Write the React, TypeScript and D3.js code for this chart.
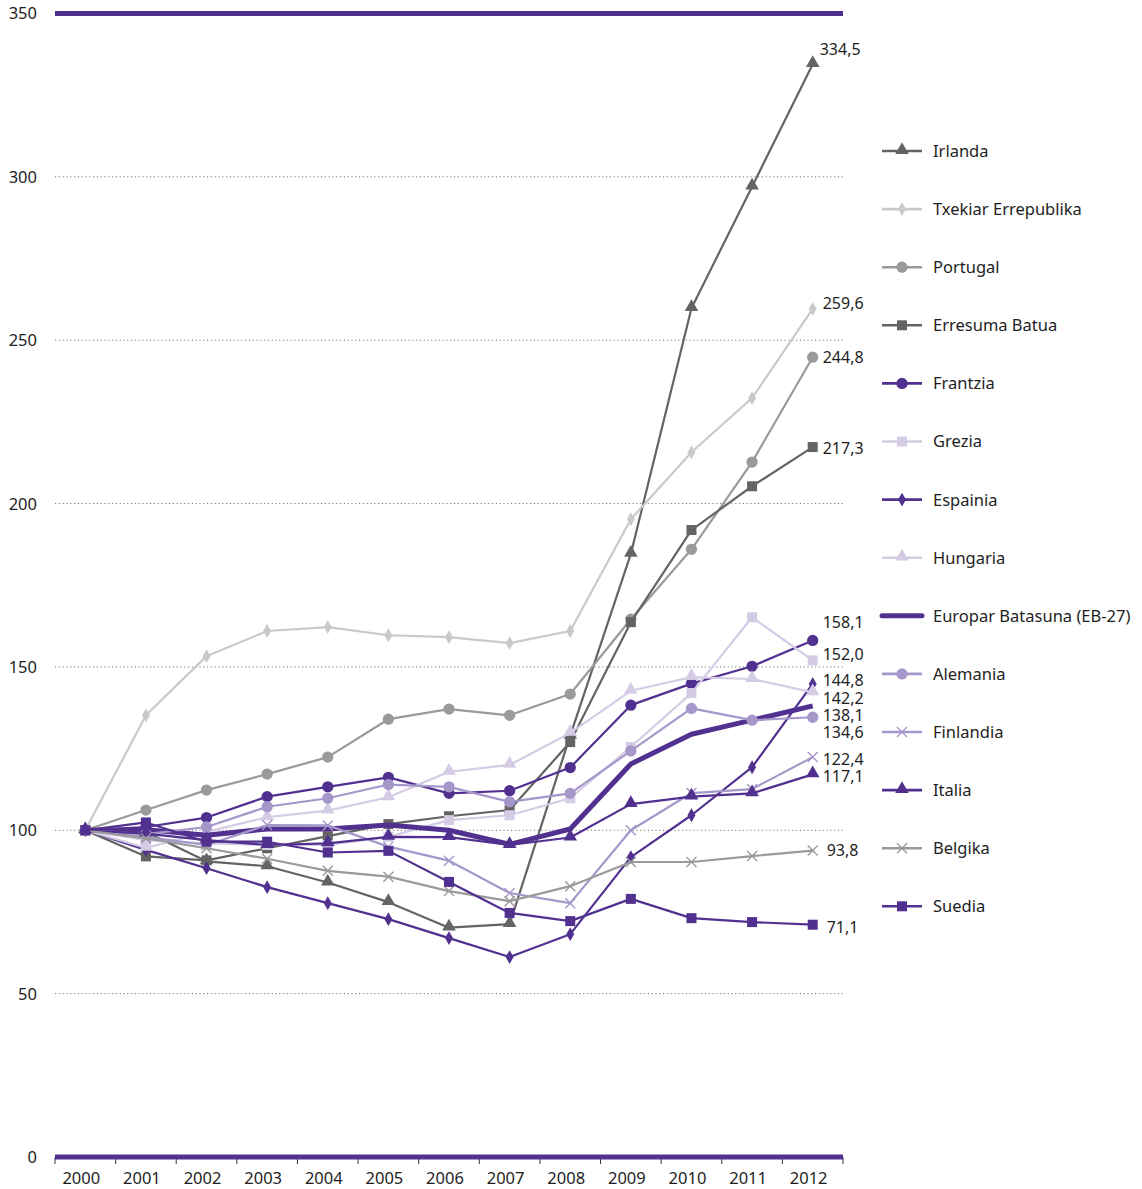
import React from "react";
import * as d3 from "d3";

const years = ["2000","2001","2002","2003","2004","2005","2006","2007","2008","2009","2010","2011","2012"];
const yTicks = [0, 50, 100, 150, 200, 250, 300, 350];

const irlanda = [100, 99.5, 90.5, 89, 84, 78, 70.2, 71.3, 129, 184.6, 259.8, 297, 334.5];
const txekiar = [100, 135.2, 153.3, 161, 162.2, 159.7, 159.1, 157.3, 161, 195.2, 215.7, 232.3, 259.6];
const portugal = [100, 106.2, 112.3, 117.2, 122.4, 134, 137.1, 135.2, 141.7, 164.6, 186, 212.7, 244.8];
const erresuma = [100, 92, 90.8, 94.5, 98.2, 101.9, 104.3, 106.2, 127, 163.7, 191.9, 205.3, 217.3];
const frantzia = [100, 101, 103.9, 110.3, 113.3, 116.2, 111.3, 112.1, 119.2, 138.3, 144.9, 150.2, 158.1];
const grezia = [100, 97, 96, 95.5, 95.5, 98, 103.1, 104.6, 109.8, 125.5, 142, 165.2, 152.0];
const espainia = [100, 94, 88.4, 82.6, 77.7, 72.8, 67, 61.2, 68.2, 91.8, 104.6, 119.3, 144.8];
const hungaria = [100, 94.6, 99.5, 104, 106, 110.1, 117.9, 120, 129.8, 142.7, 146.9, 146.3, 142.2];
const eb27 = [100, 100.2, 98.5, 100.4, 100.4, 101.6, 100, 95.7, 100.4, 120.3, 129.4, 133.7, 138.1];
const alemania = [100, 98.8, 101, 107.2, 109.8, 114, 113.3, 108.7, 111.3, 124.3, 137.3, 133.7, 134.6];
const finlandia = [100, 98, 95.5, 101.6, 101.5, 95, 90.7, 80.8, 77.7, 100, 111.4, 112.6, 122.4];
const italia = [100, 99, 97, 95.5, 96, 98, 97.9, 95.5, 97.8, 108, 110.3, 111.3, 117.1];
const belgika = [100, 97.5, 94.5, 91.3, 87.6, 85.8, 81.4, 78.3, 82.9, 90.3, 90.3, 92.1, 93.8];
const suedia = [100, 102.4, 96.5, 96.5, 93.2, 93.7, 84.2, 74.7, 72.2, 79, 73.1, 71.9, 71.1];

const names = ["Irlanda","Txekiar Errepublika","Portugal","Erresuma Batua","Frantzia","Grezia","Espainia","Hungaria","Europar Batasuna (EB-27)","Alemania","Finlandia","Italia","Belgika","Suedia"];
const endLabels = ["334,5","259,6","244,8","217,3","158,1","152,0","144,8","142,2","138,1","134,6","122,4","117,1","93,8","71,1"];

const PURPLE = "#51308f";
const DGRAY = "#646464";
const MGRAY = "#9a9a9c";
const LGRAY = "#c9c9c9";
const LLAV = "#d4cce5";
const LPUR = "#a597ca";

type Series = { name: string; values: number[]; color: string; marker: string; width: number; label: string; ldy: number; ldx: number };

const seriesData: number[][] = [irlanda, txekiar, portugal, erresuma, frantzia, grezia, espainia, hungaria, eb27, alemania, finlandia, italia, belgika, suedia];
const styles = [
  { color: DGRAY, marker: "triangle", width: 2.2, ldy: -15, ldx: 7 },
  { color: LGRAY, marker: "diamond", width: 2.2, ldy: -6, ldx: 10 },
  { color: MGRAY, marker: "circle", width: 2.2, ldy: 0, ldx: 10 },
  { color: DGRAY, marker: "square", width: 2.2, ldy: 1, ldx: 10 },
  { color: PURPLE, marker: "circle", width: 2.2, ldy: -18, ldx: 10 },
  { color: LLAV, marker: "square", width: 2.2, ldy: -6, ldx: 10 },
  { color: PURPLE, marker: "diamond", width: 2.2, ldy: -4, ldx: 10 },
  { color: LLAV, marker: "triangle", width: 2.2, ldy: 6, ldx: 10 },
  { color: PURPLE, marker: "none", width: 5, ldy: 9, ldx: 10 },
  { color: LPUR, marker: "circle", width: 2.2, ldy: 15, ldx: 10 },
  { color: LPUR, marker: "x", width: 2.2, ldy: 2, ldx: 10 },
  { color: PURPLE, marker: "triangle", width: 2.2, ldy: 2, ldx: 10 },
  { color: MGRAY, marker: "x", width: 2.2, ldy: 0, ldx: 14 },
  { color: PURPLE, marker: "square", width: 2.2, ldy: 3, ldx: 14 },
];

const series: Series[] = names.map((n, i) => ({ name: n, values: seriesData[i], label: endLabels[i], ...styles[i] }));

const FONT = "'Noto Sans', 'Open Sans', sans-serif";

function Marker({ type, x, y, color }: { type: string; x: number; y: number; color: string }) {
  if (type === "none") return null;
  if (type === "x") {
    const s = 5;
    return (
      <path d={`M${x - s},${y - s}L${x + s},${y + s}M${x - s},${y + s}L${x + s},${y - s}`} stroke={color} strokeWidth={1.4} fill="none" />
    );
  }
  const map: Record<string, [d3.SymbolType, number]> = {
    triangle: [d3.symbolTriangle, 80],
    diamond: [d3.symbolDiamond, 55],
    circle: [d3.symbolCircle, 100],
    square: [d3.symbolSquare, 100],
  };
  const [t, size] = map[type];
  const p = d3.symbol().type(t).size(size)() as string;
  const dy = type === "triangle" ? -1 : 0;
  return <path d={p} transform={`translate(${x},${y + dy})`} fill={color} />;
}

export default function App() {
  const W = 1142, H = 1189;
  const x = d3.scaleBand<string>().domain(years).range([55, 843]).padding(0);
  const y = d3.scaleLinear().domain([0, 350]).range([1157, 13.5]);
  const cx = (yr: string) => (x(yr) as number) + x.bandwidth() / 2;
  const line = d3.line<number>().x((_, i) => cx(years[i])).y((v) => y(v));

  const legendY0 = 151, legendStep = 58.1;

  return (
    <svg width={W} height={H} style={{ position: "absolute", left: 0, top: 0, background: "#fff" }} fontFamily={FONT}>
      {yTicks.filter((t) => t > 0 && t < 350).map((t) => (
        <line key={t} x1={55} x2={843} y1={y(t)} y2={y(t)} stroke="#777" strokeWidth={1} strokeDasharray="1.2 2.6" />
      ))}
      {yTicks.map((t) => (
        <text key={"yl" + t} x={37} y={y(t)} dy="0.36em" textAnchor="end" fontSize={16.5} fill="#1e1e1e">{t}</text>
      ))}
      <line x1={55} x2={843} y1={y(350)} y2={y(350)} stroke={PURPLE} strokeWidth={5} />
      {years.map((yr) => (
        <line key={"t" + yr} x1={x(yr) as number} x2={x(yr) as number} y1={1157} y2={1164} stroke="#333" strokeWidth={1} />
      ))}
      <line x1={843} x2={843} y1={1157} y2={1164} stroke="#333" strokeWidth={1} />
      {years.map((yr) => (
        <text key={"xl" + yr} x={cx(yr) - 4} y={1178} dy="0.36em" textAnchor="middle" fontSize={16.5} fill="#1e1e1e">{yr}</text>
      ))}
      {series.map((s) => (
        <g key={s.name}>
          <path d={line(s.values) as string} fill="none" stroke={s.color} strokeWidth={s.width} strokeLinejoin="round" />
          {s.values.map((v, i) => (
            <Marker key={i} type={s.marker} x={cx(years[i])} y={y(v)} color={s.color} />
          ))}
        </g>
      ))}
      <line x1={55} x2={843} y1={y(0)} y2={y(0)} stroke={PURPLE} strokeWidth={5} />
      {series.map((s) => (
        <text key={"el" + s.name} x={cx("2012") + s.ldx} y={y(s.values[12]) + s.ldy} dy="0.36em" fontSize={16} fill="#1e1e1e">{s.label}</text>
      ))}
      {series.map((s, i) => {
        const ly = legendY0 + i * legendStep;
        return (
          <g key={"lg" + s.name}>
            <line x1={882} x2={922} y1={ly} y2={ly} stroke={s.color} strokeWidth={s.marker === "none" ? 5 : 2.6} strokeLinecap={s.marker === "none" ? "round" : "butt"} />
            <Marker type={s.marker} x={902} y={ly} color={s.color} />
            <text x={933} y={ly} dy="0.36em" fontSize={16.5} fill="#1e1e1e">{s.name}</text>
          </g>
        );
      })}
    </svg>
  );
}
